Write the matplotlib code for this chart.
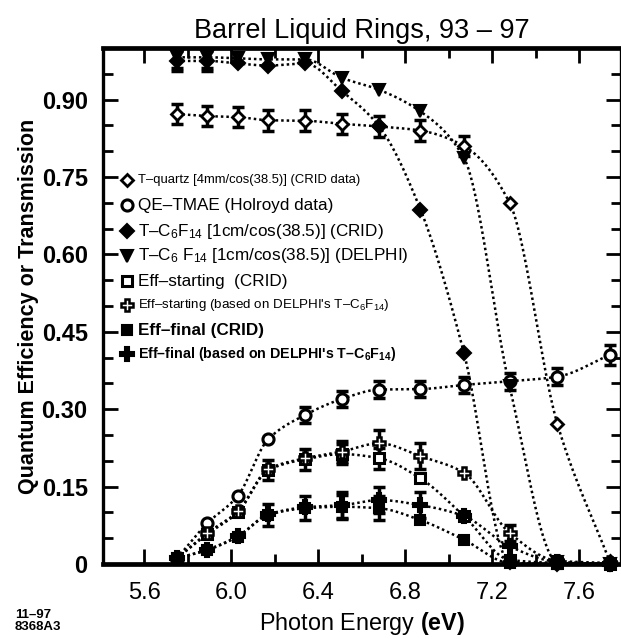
import numpy as np
import matplotlib
matplotlib.use("Agg")
import matplotlib.pyplot as plt
from matplotlib.ticker import MultipleLocator, FuncFormatter

plt.rcParams['font.family'] = ['Liberation Sans', 'DejaVu Sans']
plt.rcParams['mathtext.fontset'] = 'custom'
plt.rcParams['mathtext.rm'] = 'Liberation Sans'
plt.rcParams['mathtext.it'] = 'Liberation Sans:italic'
plt.rcParams['mathtext.bf'] = 'Liberation Sans:bold'

# Photon energies of the measured points (eV)
energy = [5.75, 5.89, 6.03, 6.17, 6.34, 6.51, 6.68, 6.87, 7.07, 7.28, 7.50, 7.74]

t_quartz = [0.872, 0.868, 0.866, 0.860, 0.859, 0.853, 0.848, 0.840, 0.810, 0.700, 0.271, 0.005]
t_quartz_err = [0.02, 0.02, 0.02, 0.02, 0.02, 0.02, 0.02, 0.02, 0.02, 0, 0, 0]

qe_tmae = [0.011, 0.079, 0.132, 0.242, 0.289, 0.320, 0.338, 0.339, 0.347, 0.354, 0.363, 0.405]
qe_tmae_err = [0, 0, 0, 0, 0.016, 0.016, 0.016, 0.016, 0.016, 0.016, 0.016, 0.02]

t_c6f14_crid = [0.975, 0.975, 0.970, 0.966, 0.970, 0.916, 0.848, 0.687, 0.409, 0.003, 0.0, 0.0]
t_c6f14_crid_err = [0.02, 0.02, 0, 0, 0, 0, 0, 0, 0, 0, 0, 0]

t_c6f14_delphi = [0.982, 0.982, 0.980, 0.978, 0.978, 0.942, 0.919, 0.877, 0.787, 0.344, 0.004, 0.0]
t_c6f14_delphi_err = [0.02, 0.02, 0, 0, 0, 0, 0, 0, 0, 0, 0, 0]

eff_start_crid = [0.011, 0.058, 0.100, 0.182, 0.203, 0.213, 0.205, 0.166, 0.093, 0.008, 0.002, 0.0]
eff_start_crid_err = [0, 0, 0, 0.02, 0.02, 0.02, 0.02, 0, 0, 0, 0, 0]

eff_start_delphi = [0.011, 0.060, 0.102, 0.184, 0.205, 0.218, 0.234, 0.209, 0.177, 0.060, 0.006, 0.002]
eff_start_delphi_err = [0, 0, 0, 0, 0, 0.02, 0.025, 0.025, 0, 0.015, 0, 0]

eff_final_crid = [0.011, 0.027, 0.053, 0.095, 0.108, 0.111, 0.108, 0.085, 0.047, 0.002, 0.0, 0.0]
eff_final_crid_err = [0, 0, 0, 0.022, 0.023, 0.023, 0.023, 0, 0, 0, 0, 0]

eff_final_delphi = [0.011, 0.028, 0.054, 0.096, 0.110, 0.114, 0.124, 0.114, 0.093, 0.034, 0.004, 0.0]
eff_final_delphi_err = [0, 0, 0, 0, 0, 0.025, 0.025, 0.025, 0, 0, 0, 0]

labels = [
    r"T–quartz [4mm/cos(38.5)] (CRID data)",
    r"QE–TMAE (Holroyd data)",
    r"T–C$_6$F$_{14}$ [1cm/cos(38.5)] (CRID)",
    r"T–C$_6$ F$_{14}$ [1cm/cos(38.5)] (DELPHI)",
    r"Eff–starting  (CRID)",
    r"Eff–starting (based on DELPHI's T–C$_6$F$_{14}$)",
    r"Eff–final (CRID)",
    r"Eff–final (based on DELPHI's T–C$_\mathbf{6}$F$_\mathbf{14}$)",
]

x_ticks = [5.6, 6.0, 6.4, 6.8, 7.2, 7.6]
y_ticks = [0, 0.15, 0.30, 0.45, 0.60, 0.75, 0.90]


def smooth_curve(x, y, n=40):
    """Monotone cubic Hermite curve through the points."""
    x = np.asarray(x, float)
    y = np.asarray(y, float)
    h = np.diff(x)
    d = np.diff(y) / h
    m = np.zeros_like(y)
    m[0], m[-1] = d[0], d[-1]
    for k in range(1, len(y) - 1):
        if d[k - 1] * d[k] > 0:
            w1 = 2 * h[k] + h[k - 1]
            w2 = h[k] + 2 * h[k - 1]
            m[k] = (w1 + w2) / (w1 / d[k - 1] + w2 / d[k])
    xs, ys = [], []
    for k in range(len(x) - 1):
        t = np.linspace(0, 1, n, endpoint=(k == len(x) - 2))
        h00 = 2 * t**3 - 3 * t**2 + 1
        h10 = t**3 - 2 * t**2 + t
        h01 = -2 * t**3 + 3 * t**2
        h11 = t**3 - t**2
        xs.append(x[k] + t * h[k])
        ys.append(h00 * y[k] + h10 * h[k] * m[k] + h01 * y[k + 1] + h11 * h[k] * m[k + 1])
    return np.concatenate(xs), np.maximum(np.concatenate(ys), 0)


series = [
    (t_quartz, t_quartz_err, dict(marker='D', ms=6.5, mfc='white', mew=2.0)),
    (qe_tmae, qe_tmae_err, dict(marker='o', ms=8, mfc='white', mew=2.2)),
    (t_c6f14_crid, t_c6f14_crid_err, dict(marker='D', ms=7, mfc='black', mew=1.5)),
    (t_c6f14_delphi, t_c6f14_delphi_err, dict(marker='v', ms=9, mfc='black', mew=1.5)),
    (eff_start_crid, eff_start_crid_err, dict(marker='s', ms=7, mfc='white', mew=2.2)),
    (eff_start_delphi, eff_start_delphi_err, dict(marker='P', ms=9, mfc='white', mew=1.8)),
    (eff_final_crid, eff_final_crid_err, dict(marker='s', ms=7.5, mfc='black', mew=1.5)),
    (eff_final_delphi, eff_final_delphi_err, dict(marker='P', ms=9.5, mfc='black', mew=1.5)),
]

fig = plt.figure(figsize=(6.21, 6.39), dpi=100)
ax = fig.add_axes([103 / 621, 1 - 564 / 639, 517.5 / 621, 516 / 639])

e = np.asarray(energy)
for vals, errs, style in series:
    v = np.asarray(vals)
    er = np.asarray(errs)
    sx, sy = smooth_curve(e, v)
    ax.plot(sx, sy, linestyle=(0, (1, 1.2)), color='black', lw=1.8, zorder=2)
    mask = er > 0
    if mask.any():
        ax.errorbar(e[mask], v[mask], yerr=er[mask], fmt='none', ecolor='black',
                    elinewidth=2.5, capsize=4.5, capthick=2.5, zorder=3)
    ax.plot(e, v, linestyle='none', mec='black', zorder=4, clip_on=False, **style)

ax.set_xlim(5.41, 7.79)
ax.set_ylim(0, 1.0)

ax.set_xticks(x_ticks)
ax.xaxis.set_minor_locator(MultipleLocator(0.2))
ax.set_yticks(y_ticks)
ax.yaxis.set_minor_locator(MultipleLocator(0.05))
ax.yaxis.set_major_formatter(FuncFormatter(lambda v, p: "0" if abs(v) < 1e-9 else f"{v:.2f}"))
ax.xaxis.set_major_formatter(FuncFormatter(lambda v, p: f"{v:.1f}"))

ax.tick_params(which='both', direction='in', top=True, right=True, width=2.0)
ax.tick_params(which='major', length=11)
ax.tick_params(which='minor', length=7)
ax.tick_params(axis='x', labelsize=17, pad=13)
ax.tick_params(axis='y', labelsize=17, pad=11)
for lab in ax.get_yticklabels():
    lab.set_fontweight('bold')

for side, lw in (('left', 2.4), ('right', 2.4), ('top', 3.4), ('bottom', 3.4)):
    ax.spines[side].set_linewidth(lw)

# Legend drawn as marker + text rows inside the axes
row_y = [0.744, 0.695, 0.645, 0.597, 0.548, 0.502, 0.453, 0.407]
text_styles = [
    dict(fontsize=9.4),
    dict(fontsize=12.3),
    dict(fontsize=12.3),
    dict(fontsize=12.3),
    dict(fontsize=12.3),
    dict(fontsize=9.6),
    dict(fontsize=12.3, fontweight='bold'),
    dict(fontsize=10.3, fontweight='bold'),
]
for (vals, errs, style), lab, yy, ts in zip(series, labels, row_y, text_styles):
    ax.plot([0.047], [yy], transform=ax.transAxes, linestyle='none', mec='black',
            clip_on=False, zorder=5, **style)
    ax.text(0.068, yy, lab, transform=ax.transAxes, va='center', ha='left', **ts)

ax.set_title("Barrel Liquid Rings, 93 – 97", fontsize=19.5, pad=7)
ax.set_xlabel(r"Photon Energy $\mathbf{(eV)}$", fontsize=16.8, labelpad=4)
ax.set_ylabel("Quantum Efficiency or Transmission", fontsize=15.5, fontweight='bold', labelpad=2)

fig.text(15 / 621, 1 - 621 / 639, "11–97\n8368A3", fontsize=9.5, fontweight='bold',
         ha='left', va='center', linespacing=1.0)

fig.savefig("out.png", dpi=100)
